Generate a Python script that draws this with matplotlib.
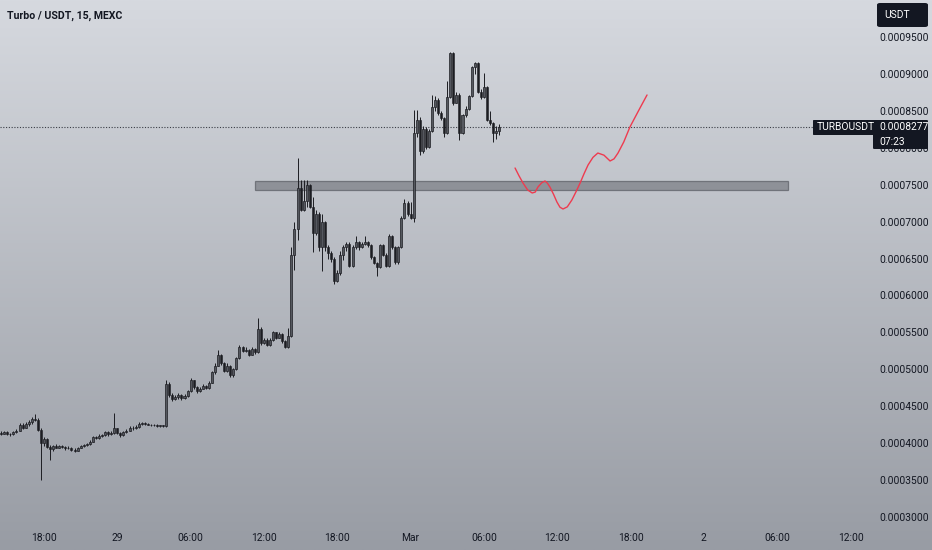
import numpy as np
import matplotlib
matplotlib.use("Agg")
import matplotlib.pyplot as plt
from matplotlib.patches import Rectangle, FancyBboxPatch

plt.rcParams['font.family'] = ['Roboto', 'DejaVu Sans']

# ---- OHLC data (prices in units of 1e-7 USDT), 15-minute candles from 28 Feb 14:30 ----
opens = [4140, 4130, 4150, 4120, 4130, 4150, 4170, 4250, 4210, 4260, 4290, 4330, 4320, 4180, 4000, 4060,
         3950, 3920, 3960, 3940, 3960, 3950, 3930, 3940, 3910, 3900, 3940, 3960, 3980, 3990, 4020, 4080,
         4070, 4100, 4110, 4150, 4120, 4140, 4200, 4140, 4110, 4150, 4170, 4210, 4200, 4220, 4260, 4270,
         4260, 4250, 4240, 4250, 4230, 4240, 4230, 4800, 4650, 4600, 4620, 4650, 4610, 4640, 4700, 4850,
         4760, 4700, 4740, 4780, 4750, 4820, 4960, 5050, 5200, 5080, 4980, 5050, 4920, 5000, 5150, 5300,
         5250, 5260, 5200, 5280, 5230, 5550, 5350, 5400, 5330, 5400, 5500, 5430, 5480, 5380, 5300, 5450,
         6550, 6900, 7450, 7160, 7280, 7500, 7200, 6850, 7100, 6650, 7000, 6650, 6580, 6500, 6200, 6300,
         6550, 6650, 6700, 6400, 6650, 6720, 6650, 6700, 6720, 6680, 6520, 6440, 6380, 6680, 6550, 6400,
         6800, 6650, 6450, 6650, 7050, 7250, 7100, 7050, 8200, 8380, 7950, 8250, 8010, 8230, 8550, 8650,
         8470, 8400, 8200, 8690, 9280, 8610, 8720, 8200, 8440, 8520, 8700, 9090, 9150, 8760, 8690, 8820,
         8380, 8330, 8200, 8230]
highs = [4170, 4170, 4160, 4140, 4160, 4190, 4270, 4270, 4280, 4310, 4350, 4400, 4340, 4200, 4090, 4070,
         3980, 3980, 3990, 3980, 3970, 3960, 3960, 3950, 3930, 3950, 3970, 3990, 4000, 4040, 4100, 4100,
         4120, 4130, 4170, 4160, 4160, 4410, 4210, 4150, 4170, 4190, 4230, 4230, 4240, 4280, 4290, 4280,
         4270, 4260, 4260, 4260, 4250, 4250, 4850, 4830, 4680, 4650, 4680, 4670, 4660, 4720, 4880, 4860,
         4780, 4760, 4800, 4790, 4840, 4980, 5080, 5260, 5210, 5100, 5080, 5060, 5020, 5170, 5330, 5320,
         5300, 5280, 5300, 5290, 5700, 5570, 5430, 5420, 5420, 5520, 5510, 5500, 5490, 5400, 5560, 6650,
         7000, 7860, 7560, 7560, 7560, 7510, 7330, 7160, 7130, 7100, 7010, 6680, 6600, 6520, 6350, 6600,
         6690, 6720, 6720, 6680, 6800, 6740, 6730, 6800, 6740, 6700, 6540, 6460, 6700, 6700, 6570, 6830,
         6820, 6670, 6670, 7080, 7300, 7280, 7260, 8510, 8510, 8420, 8300, 8280, 8260, 8710, 8700, 8680,
         8500, 8420, 8900, 9300, 9300, 8760, 8740, 8460, 8560, 8720, 9110, 9160, 9160, 8800, 9010, 8830,
         8500, 8350, 8300, 8320]
lows = [4110, 4120, 4110, 4100, 4110, 4140, 4160, 4190, 4200, 4230, 4260, 4300, 4160, 3500, 3960, 3930,
        3770, 3900, 3930, 3930, 3930, 3910, 3920, 3900, 3880, 3890, 3930, 3950, 3960, 3980, 4010, 4050,
        4060, 4090, 4100, 4100, 4110, 4130, 4120, 4090, 4100, 4140, 4160, 4180, 4190, 4210, 4250, 4240,
        4240, 4230, 4230, 4220, 4220, 4220, 4220, 4620, 4570, 4580, 4600, 4590, 4600, 4630, 4690, 4740,
        4680, 4690, 4730, 4730, 4740, 4810, 4940, 5040, 5060, 4960, 4970, 4900, 4900, 4990, 5140, 5230,
        5230, 5180, 5190, 5210, 5220, 5330, 5340, 5310, 5320, 5390, 5410, 5420, 5360, 5290, 5290, 5440,
        6340, 6750, 7140, 7150, 7200, 7180, 6590, 6820, 6600, 6330, 6600, 6500, 6460, 6160, 6180, 6280,
        6480, 6600, 6380, 6390, 6630, 6620, 6640, 6680, 6660, 6500, 6420, 6260, 6370, 6530, 6380, 6390,
        6630, 6430, 6430, 6640, 7040, 7080, 7030, 7000, 8150, 7900, 7930, 7980, 8000, 8220, 8500, 8440,
        8380, 8150, 8180, 8680, 8580, 8600, 8100, 8190, 8420, 8510, 8690, 9000, 8740, 8660, 8680, 8360,
        8310, 8080, 8120, 8170]
closes = [4130, 4150, 4120, 4130, 4150, 4170, 4250, 4210, 4260, 4290, 4330, 4320, 4180, 4000, 4060, 3950,
          3920, 3960, 3940, 3960, 3950, 3930, 3940, 3910, 3900, 3940, 3960, 3980, 3990, 4020, 4080, 4070,
          4100, 4110, 4150, 4120, 4140, 4200, 4140, 4110, 4150, 4170, 4210, 4200, 4220, 4260, 4270, 4260,
          4250, 4240, 4250, 4230, 4240, 4230, 4800, 4650, 4600, 4620, 4650, 4610, 4640, 4700, 4850, 4760,
          4700, 4740, 4780, 4750, 4820, 4960, 5050, 5200, 5080, 4980, 5050, 4920, 5000, 5150, 5300, 5250,
          5260, 5200, 5280, 5230, 5550, 5350, 5400, 5330, 5400, 5500, 5430, 5480, 5380, 5300, 5450, 6550,
          6900, 7450, 7160, 7280, 7500, 7200, 6850, 7100, 6650, 7000, 6650, 6580, 6500, 6200, 6300, 6550,
          6650, 6700, 6400, 6650, 6720, 6650, 6700, 6720, 6680, 6520, 6440, 6380, 6680, 6550, 6400, 6800,
          6650, 6450, 6650, 7050, 7250, 7100, 7050, 8200, 8380, 7950, 8250, 8010, 8230, 8550, 8650, 8470,
          8400, 8200, 8690, 9280, 8610, 8720, 8200, 8440, 8520, 8700, 9090, 9150, 8760, 8690, 8820, 8380,
          8330, 8200, 8230, 8277]

last_price = 8277
countdown = "07:23"
symbol = "TURBOUSDT"
title = "Turbo / USDT, 15, MEXC"

# time axis labels (every 6 hours, first = 28 Feb 18:00 at candle 14)
time_labels = ["18:00", "29", "06:00", "12:00", "18:00", "Mar", "06:00", "12:00", "18:00", "2", "06:00", "12:00"]
price_ticks = [3000, 3500, 4000, 4500, 5000, 5500, 6000, 6500, 7000, 7500, 8000, 8500, 9000, 9500]

# support zone (candle index range, price range)
zone_x = [83.1, 257.5]
zone_p = [7428, 7550]

# hand-drawn projection path
curve_x = [168.2, 169.5, 170.8, 172.3, 173.8, 174.8, 175.7, 176.9, 178.0, 178.8, 179.6, 180.8, 181.9, 182.9,
           183.9, 185.3, 186.8, 188.1, 189.5, 190.8, 192.1, 193.7, 195.3, 197.3, 199.3, 200.6, 201.9, 203.8,
           205.8, 208.6, 211.4]
curve_p = [7726, 7620, 7523, 7430, 7388, 7400, 7469, 7525, 7550, 7520, 7469, 7370, 7266, 7195,
           7171, 7200, 7293, 7400, 7523, 7650, 7767, 7870, 7929, 7900, 7821, 7850, 7929, 8080,
           8281, 8500, 8715]

SCALE = 1e-7
o = np.array(opens) * SCALE
h = np.array(highs) * SCALE
l = np.array(lows) * SCALE
c = np.array(closes) * SCALE
idx = np.arange(len(o))

W, H = 932, 550
fig = plt.figure(figsize=(W / 100, H / 100), dpi=100)

# background gradient
bg = fig.add_axes([0, 0, 1, 1], zorder=-10)
top = np.array([214, 217, 223]) / 255
bot = np.array([152, 156, 164]) / 255
t = np.linspace(0, 1, 256)[:, None, None]
grad = top[None, None, :] * (1 - t) + bot[None, None, :] * t
grad = np.repeat(grad, 2, axis=1)
bg.imshow(grad, aspect='auto', extent=[0, 1, 0, 1])
bg.axis('off')

ax = fig.add_axes([0, 25 / H, 868 / W, 525 / H])
ax.patch.set_alpha(0)
for s in ax.spines.values():
    s.set_visible(False)

dark = '#1c1d22'
up = c >= o
ax.vlines(idx, l, h, color=dark, linewidth=0.7, zorder=3)
body_h = np.maximum(np.abs(c - o), 0.6e-6)
body_b = np.minimum(o, c)
ax.bar(idx[~up], body_h[~up], bottom=body_b[~up], width=0.66, color=dark, edgecolor=dark, linewidth=0.4, zorder=4)
ax.bar(idx[up], body_h[up], bottom=body_b[up], width=0.66, color='#55585f', edgecolor=dark, linewidth=0.5, zorder=4)

# support zone
ax.add_patch(Rectangle((zone_x[0], zone_p[0] * SCALE), zone_x[1] - zone_x[0], (zone_p[1] - zone_p[0]) * SCALE,
                       facecolor='#7e8188', alpha=0.75, edgecolor='#5e6168', linewidth=0.9, zorder=2))

# projection curve
ax.plot(curve_x, np.array(curve_p) * SCALE, color='#ee3b4f', linewidth=1.0, zorder=5, solid_capstyle='round')

# last price dotted line
ax.axhline(last_price * SCALE, color='#3a3d45', linewidth=0.8, linestyle=(0, (1, 1.5)), zorder=1)

# axes scales
x_left = -1.2 / 3.055
x_right = (868 - 1.2) / 3.055
ax.set_xlim(x_left, x_right)
ax.set_ylim(2892 * SCALE, 10001 * SCALE)

ax.yaxis.tick_right()
ax.set_yticks(np.array(price_ticks) * SCALE)
ax.set_yticklabels([f"{p * SCALE:.7f}" for p in price_ticks])
ax.tick_params(axis='y', length=0, pad=8, labelsize=7.4, labelcolor='#131722')

ax.set_xticks([14 + 24 * k for k in range(len(time_labels))])
ax.set_xticklabels(time_labels)
ax.tick_params(axis='x', length=0, pad=6, labelsize=7.4, labelcolor='#131722')

# title
fig.text(7 / W, 1 - 16 / H, title, fontsize=7.6, fontweight='bold', color='#131722', va='center', ha='left')

# label boxes
def fbox(x0, y0, x1, y1, color='#131722', r=2):
    fig.patches.append(FancyBboxPatch((x0 / W, 1 - y1 / H), (x1 - x0) / W, (y1 - y0) / H,
                                      boxstyle=f"round,pad=0,rounding_size={r / W}",
                                      transform=fig.transFigure, facecolor=color, edgecolor='none', zorder=20))

fbox(877, 3, 928, 27, r=3)
fig.text(884 / W, 1 - 15.5 / H, "USDT", fontsize=7.4, color='white', va='center', ha='left', zorder=21)

fbox(813, 120, 875, 135, r=1)
fig.text(817 / W, 1 - 127.5 / H, symbol, fontsize=7.4, color='white', va='center', ha='left', zorder=21)
fbox(873, 120, 928, 149, r=1.5)
fig.text(879 / W, 1 - 127.5 / H, f"{last_price * SCALE:.7f}", fontsize=7.4, color='white', va='center', ha='left', zorder=21)
fig.text(879 / W, 1 - 142 / H, countdown, fontsize=7.4, color='white', va='center', ha='left', zorder=21)

fig.savefig("out.png", dpi=100)
